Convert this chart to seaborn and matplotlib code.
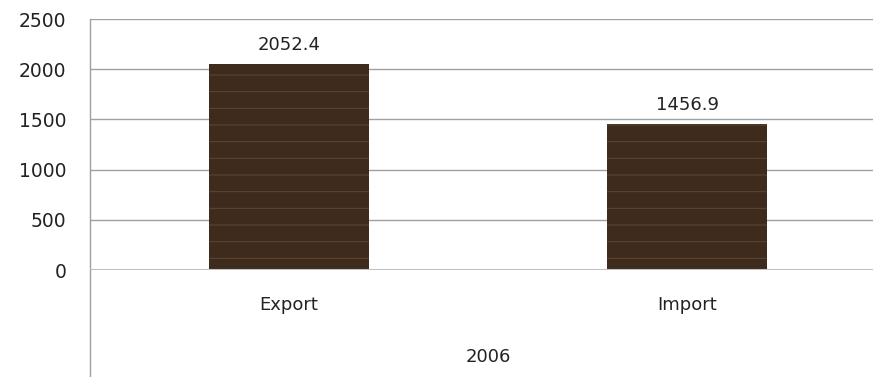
import numpy as np
import pandas as pd
import matplotlib
matplotlib.use('Agg')
import matplotlib.pyplot as plt
from matplotlib.lines import Line2D
import seaborn as sns

## Data
categories = ['Export', 'Import']
values     = [2052.4, 1456.9]
year       = '2006'
yticks     = [0, 500, 1000, 1500, 2000, 2500]

df = pd.DataFrame({'cat': categories, 'val': values})

sns.set_style('white')
plt.rcParams['font.family'] = ['DejaVu Sans']
plt.rcParams['hatch.linewidth'] = 0.7

fig = plt.figure(figsize=(8.73, 3.77), dpi=100)
ax  = fig.add_axes([90/873, 107/377, 796/873, 251/377])

sns.barplot(data=df, x='cat', y='val', color='#3e2b1d', width=0.4,
            saturation=1, ax=ax, zorder=3)
for p in ax.patches:
    p.set_hatch('-')
    p.set_edgecolor('#5c4831')
    p.set_linewidth(0)

## Value labels
for i, v in enumerate(values):
    ax.text(i, v + 100, f'{v:.1f}', ha='center', va='bottom', fontsize=13, color='#222222')

## Axes customization
ax.set_ylim(0, 2500)
ax.set_xlim(-0.5, 1.5)
ax.set_yticks(yticks)
ax.set_yticklabels([str(t) for t in yticks], fontsize=13.5, color='#222222')
ax.tick_params(axis='y', length=0, pad=17)
ax.tick_params(axis='x', length=0, pad=19, labelsize=13, labelcolor='#222222')
ax.set_ylabel('')
ax.set_xlabel(year, fontsize=13, color='#222222', labelpad=24)
ax.yaxis.grid(True, color='#a0a0a0', linewidth=1)
ax.set_axisbelow(True)
for s in ['top', 'right', 'bottom']:
    ax.spines[s].set_visible(False)
ax.spines['left'].set_color('#a0a0a0')
ax.spines['left'].set_linewidth(1)
ax.axhline(0, color='#c0c0c0', linewidth=1.5, zorder=4)

## Axis line extending below the categories
ax.add_line(Line2D([0, 0], [0, -0.45], transform=ax.transAxes, color='#a0a0a0',
                   linewidth=1, clip_on=False))

fig.savefig('out.png', dpi=100)
